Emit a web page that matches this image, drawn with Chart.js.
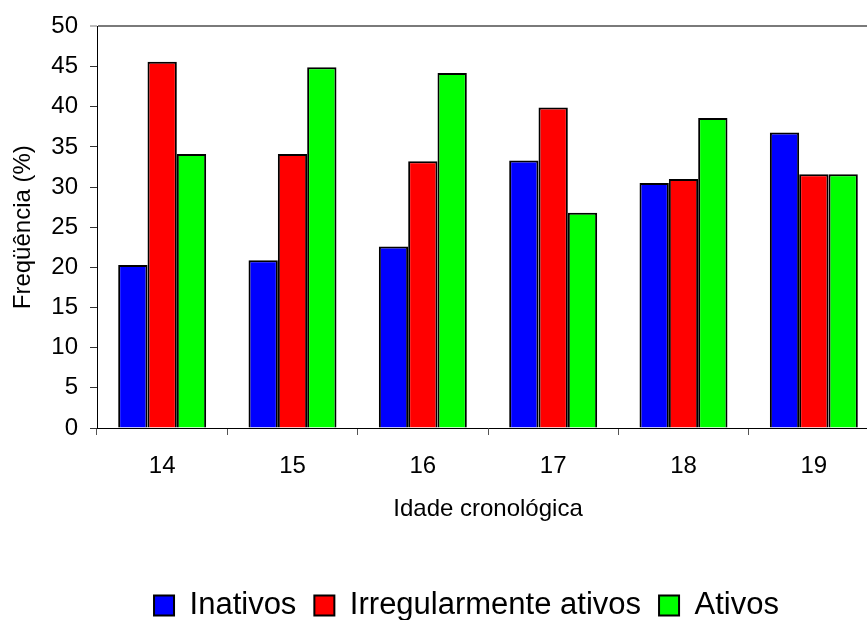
<!DOCTYPE html>
<html>
<head>
<meta charset="utf-8">
<script src="https://cdn.jsdelivr.net/npm/chart.js@4/dist/chart.umd.min.js"></script>
<style>
  html, body { margin: 0; padding: 0; background: #fff; overflow: hidden; width: 867px; height: 620px; }
  #wrap { width: 880px; height: 640px; }
</style>
</head>
<body>
<div id="wrap"><canvas id="c" width="880" height="640"></canvas></div>
<script>
// Age groups and share (%) of each activity level
const idades = ['14', '15', '16', '17', '18', '19'];
const inativos = [20.3, 20.9, 22.6, 33.3, 30.5, 36.8];
const irregularmenteAtivos = [45.6, 34.1, 33.2, 39.9, 31.0, 31.6];
const ativos = [34.1, 44.9, 44.2, 26.8, 38.6, 31.6];
const nomesSeries = ['Inativos', 'Irregularmente ativos', 'Ativos'];
const yTicks = [0, 5, 10, 15, 20, 25, 30, 35, 40, 45, 50];

const FONT = 'Liberation Sans, Arial, sans-serif';

// nudges the bottom legend sideways after layout
const legendShift = {
  id: 'legendShift',
  afterLayout(chart, args, opts) {
    if (chart.legend) {
      chart.legend.left += opts.dx;
      chart.legend.right += opts.dx;
    }
  }
};

const bar = (label, data, color) => ({
  label, data,
  backgroundColor: color,
  borderColor: '#000',
  borderWidth: 2,
  borderSkipped: 'bottom'
});

new Chart(document.getElementById('c'), {
  type: 'bar',
  data: {
    labels: idades,
    datasets: [
      bar(nomesSeries[0], inativos, '#0000ff'),
      bar(nomesSeries[1], irregularmenteAtivos, '#ff0000'),
      bar(nomesSeries[2], ativos, '#00ff00')
    ]
  },
  plugins: [legendShift],
  options: {
    responsive: false,
    animation: false,
    devicePixelRatio: 1,
    layout: { padding: { top: 24, right: 1, left: 0, bottom: 9 } },
    datasets: { bar: { categoryPercentage: 0.675, barPercentage: 1 } },
    plugins: {
      tooltip: { enabled: false },
      legendShift: { dx: 27 },
      legend: {
        position: 'bottom',
        labels: {
          font: { family: FONT, size: 31 },
          color: '#000',
          boxWidth: 20,
          boxHeight: 20,
          padding: 18
        }
      }
    },
    scales: {
      x: {
        afterFit(s) { s.height = 144; },
        grid: {
          offset: true,
          drawOnChartArea: false,
          tickLength: 7,
          tickColor: '#555',
          tickWidth: 1
        },
        border: { display: true, color: '#000', width: 1 },
        ticks: { color: '#000', padding: 17, font: { family: FONT, size: 24 } },
        title: {
          display: true,
          text: 'Idade cronológica',
          color: '#000',
          font: { family: FONT, size: 24 },
          padding: { top: 0, bottom: 48 }
        }
      },
      y: {
        min: 0,
        max: 50,
        afterFit(s) { s.width = 97; },
        afterBuildTicks(s) { s.ticks = yTicks.map(v => ({ value: v })); },
        grid: {
          drawOnChartArea: true,
          color: c => (c.tick && c.tick.value === 50 ? '#7a7a7a' : 'rgba(0,0,0,0)'),
          lineWidth: c => (c.tick && c.tick.value === 50 ? 2 : 1),
          tickLength: 7,
          tickColor: c => (c.tick && c.tick.value === 50 ? '#7a7a7a' : '#333'),
          tickWidth: 1
        },
        border: { display: true, color: '#000', width: 1 },
        ticks: { color: '#000', padding: 12, font: { family: FONT, size: 24 } },
        title: {
          display: true,
          text: 'Freqüência (%)',
          color: '#000',
          font: { family: FONT, size: 24 },
          padding: { top: 9, bottom: 0 }
        }
      }
    }
  }
});
</script>
</body>
</html>
